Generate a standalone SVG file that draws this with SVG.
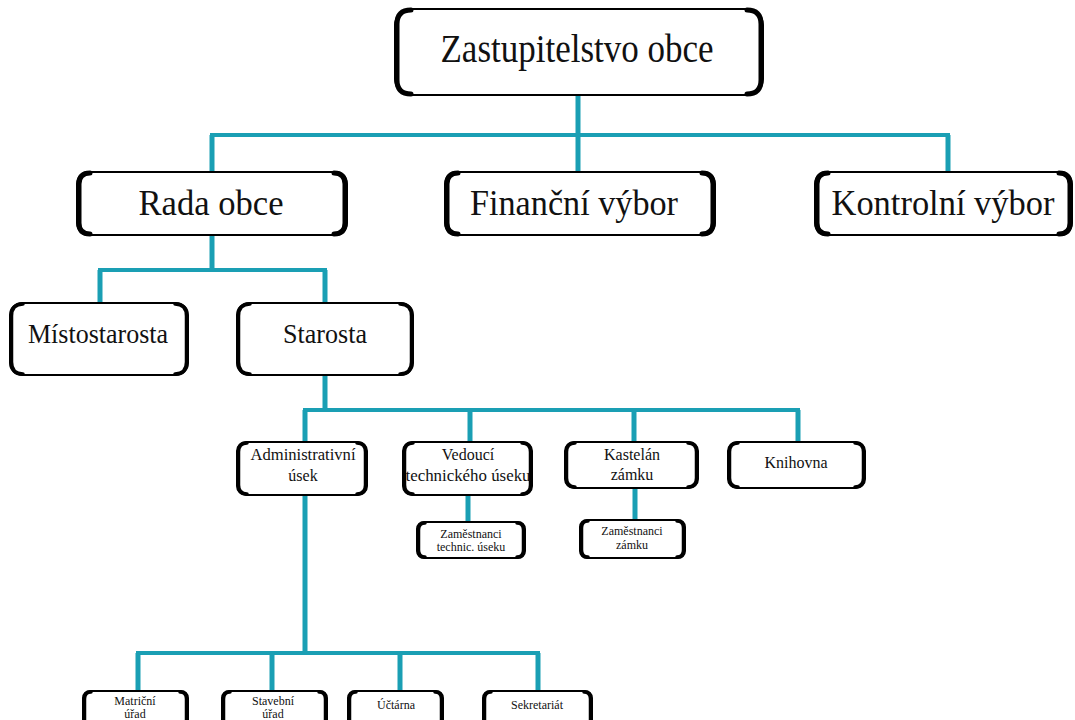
<svg xmlns="http://www.w3.org/2000/svg" width="1075" height="720" viewBox="0 0 1075 720">
<style>
.bg{fill:#fff}
.box{fill:#fff;stroke:#000;stroke-width:2}
.edge{fill:none;stroke:#000;stroke-width:5;stroke-linecap:round}
.edge-s{fill:none;stroke:#000;stroke-width:3.5;stroke-linecap:round}
.conn{fill:none;stroke:#1a9fb4;stroke-width:4;stroke-linecap:butt}
.conn-v{fill:none;stroke:#1a9fb4;stroke-width:5}
text{font-family:"Liberation Serif","Times New Roman",serif;fill:#111;text-anchor:middle}
.t1{font-size:41px}
.t2{font-size:36px}
.t3{font-size:28px}
.t4{font-size:16px}
.t5{font-size:12px}
</style>
<rect class="bg" x="0" y="0" width="1075" height="720"/>
<g id="connectors">
<path class="conn-v" d="M578 95V135M212 135V172M578 135V172M948 135V172"/>
<path class="conn" d="M210 135H950"/>
<path class="conn-v" d="M212 235V270M100 270V303M325 270V303"/>
<path class="conn" d="M98 270H327"/>
<path class="conn-v" d="M325 375V410M305 410V442M470 410V442M634 410V442M798 410V442"/>
<path class="conn" d="M303 410H800"/>
<path class="conn-v" d="M468 495V522M635 488V520"/>
<path class="conn-v" d="M305 495V653M138 653V691M272 653V691M400 653V691M538 653V691"/>
<path class="conn" d="M136 653H540"/>
</g>
<g id="n-zastupitelstvo">
<rect class="box" x="395" y="9" width="368" height="86" rx="16"/>
<path class="edge" d="M411 10Q397 10 397 24V80Q397 94 411 94"/>
<path class="edge" d="M747 10Q761 10 761 24V80Q761 94 747 94"/>
<text class="t1" x="577" y="62" textLength="273" lengthAdjust="spacingAndGlyphs">Zastupitelstvo obce</text>
</g>
<g id="n-rada">
<rect class="box" x="77" y="172" width="270" height="63" rx="12"/>
<path class="edge" d="M90 173Q79 173 79 184V223Q79 234 90 234"/>
<path class="edge" d="M334 173Q345 173 345 184V223Q345 234 334 234"/>
<text class="t2" x="211" y="215" textLength="145" lengthAdjust="spacingAndGlyphs">Rada obce</text>
</g>
<g id="n-financni">
<rect class="box" x="445" y="172" width="270" height="63" rx="12"/>
<path class="edge" d="M458 173Q447 173 447 184V223Q447 234 458 234"/>
<path class="edge" d="M702 173Q713 173 713 184V223Q713 234 702 234"/>
<text class="t2" x="574" y="215" textLength="208" lengthAdjust="spacingAndGlyphs">Finanční výbor</text>
</g>
<g id="n-kontrolni">
<rect class="box" x="815" y="172" width="257" height="63" rx="12"/>
<path class="edge" d="M828 173Q817 173 817 184V223Q817 234 828 234"/>
<path class="edge" d="M1059 173Q1070 173 1070 184V223Q1070 234 1059 234"/>
<text class="t2" x="943" y="215" textLength="223" lengthAdjust="spacingAndGlyphs">Kontrolní výbor</text>
</g>
<g id="n-mistostarosta">
<rect class="box" x="10" y="303" width="178" height="72" rx="12"/>
<path class="edge-s" d="M23 304Q11.5 304 11.5 316V362Q11.5 374 23 374"/>
<path class="edge-s" d="M175 304Q186.5 304 186.5 316V362Q186.5 374 175 374"/>
<text class="t3" x="98" y="343" textLength="140" lengthAdjust="spacingAndGlyphs">Místostarosta</text>
</g>
<g id="n-starosta">
<rect class="box" x="237" y="303" width="176" height="72" rx="12"/>
<path class="edge-s" d="M250 304Q238.5 304 238.5 316V362Q238.5 374 250 374"/>
<path class="edge-s" d="M400 304Q411.5 304 411.5 316V362Q411.5 374 400 374"/>
<text class="t3" x="325" y="343" textLength="84" lengthAdjust="spacingAndGlyphs">Starosta</text>
</g>
<g id="n-administrativni">
<rect class="box" x="237" y="442" width="130" height="53" rx="9"/>
<path class="edge-s" d="M247 443Q238.5 443 238.5 452V485Q238.5 494 247 494"/>
<path class="edge-s" d="M357 443Q365.5 443 365.5 452V485Q365.5 494 357 494"/>
<text class="t4" x="303" y="460" textLength="105" lengthAdjust="spacingAndGlyphs">Administrativní</text>
<text class="t4" x="303" y="481">úsek</text>
</g>
<g id="n-vedouci">
<rect class="box" x="403" y="442" width="129" height="53" rx="9"/>
<path class="edge-s" d="M413 443Q404.5 443 404.5 452V485Q404.5 494 413 494"/>
<path class="edge-s" d="M522 443Q530.5 443 530.5 452V485Q530.5 494 522 494"/>
<text class="t4" x="468" y="460">Vedoucí</text>
<text class="t4" x="468" y="481" textLength="125" lengthAdjust="spacingAndGlyphs">technického úseku</text>
</g>
<g id="n-kastelan">
<rect class="box" x="565" y="442" width="133" height="46" rx="9"/>
<path class="edge-s" d="M575 443Q566.5 443 566.5 452V478Q566.5 487 575 487"/>
<path class="edge-s" d="M688 443Q696.5 443 696.5 452V478Q696.5 487 688 487"/>
<text class="t4" x="632" y="460">Kastelán</text>
<text class="t4" x="632" y="480">zámku</text>
</g>
<g id="n-knihovna">
<rect class="box" x="728" y="442" width="137" height="46" rx="9"/>
<path class="edge-s" d="M738 443Q729.5 443 729.5 452V478Q729.5 487 738 487"/>
<path class="edge-s" d="M855 443Q863.5 443 863.5 452V478Q863.5 487 855 487"/>
<text class="t4" x="796" y="468">Knihovna</text>
</g>
<g id="n-zam-tech">
<rect class="box" x="417" y="522" width="108" height="36" rx="7"/>
<path class="edge-s" d="M425 523Q418.5 523 418.5 530V550Q418.5 557 425 557"/>
<path class="edge-s" d="M517 523Q523.5 523 523.5 530V550Q523.5 557 517 557"/>
<text class="t5" x="471" y="538">Zaměstnanci</text>
<text class="t5" x="471" y="551">technic. úseku</text>
</g>
<g id="n-zam-zamku">
<rect class="box" x="580" y="520" width="105" height="38" rx="7"/>
<path class="edge-s" d="M588 521Q581.5 521 581.5 528V550Q581.5 557 588 557"/>
<path class="edge-s" d="M677 521Q683.5 521 683.5 528V550Q683.5 557 677 557"/>
<text class="t5" x="632" y="535">Zaměstnanci</text>
<text class="t5" x="632" y="549">zámku</text>
</g>
<g id="n-matricni">
<rect class="box" x="83" y="691" width="105" height="44" rx="7"/>
<path class="edge-s" d="M91 692Q84.5 692 84.5 699V725"/>
<path class="edge-s" d="M180 692Q186.5 692 186.5 699V725"/>
<text class="t5" x="135" y="705">Matriční</text>
<text class="t5" x="135" y="718">úřad</text>
</g>
<g id="n-stavebni">
<rect class="box" x="222" y="691" width="105" height="44" rx="7"/>
<path class="edge-s" d="M230 692Q223.5 692 223.5 699V725"/>
<path class="edge-s" d="M319 692Q325.5 692 325.5 699V725"/>
<text class="t5" x="273" y="705">Stavební</text>
<text class="t5" x="273" y="718">úřad</text>
</g>
<g id="n-uctarna">
<rect class="box" x="348" y="691" width="95" height="44" rx="7"/>
<path class="edge-s" d="M356 692Q349.5 692 349.5 699V725"/>
<path class="edge-s" d="M435 692Q441.5 692 441.5 699V725"/>
<text class="t5" x="396" y="709">Účtárna</text>
</g>
<g id="n-sekretariat">
<rect class="box" x="483" y="691" width="109" height="44" rx="7"/>
<path class="edge-s" d="M491 692Q484.5 692 484.5 699V725"/>
<path class="edge-s" d="M584 692Q590.5 692 590.5 699V725"/>
<text class="t5" x="537" y="709">Sekretariát</text>
</g>
</svg>
